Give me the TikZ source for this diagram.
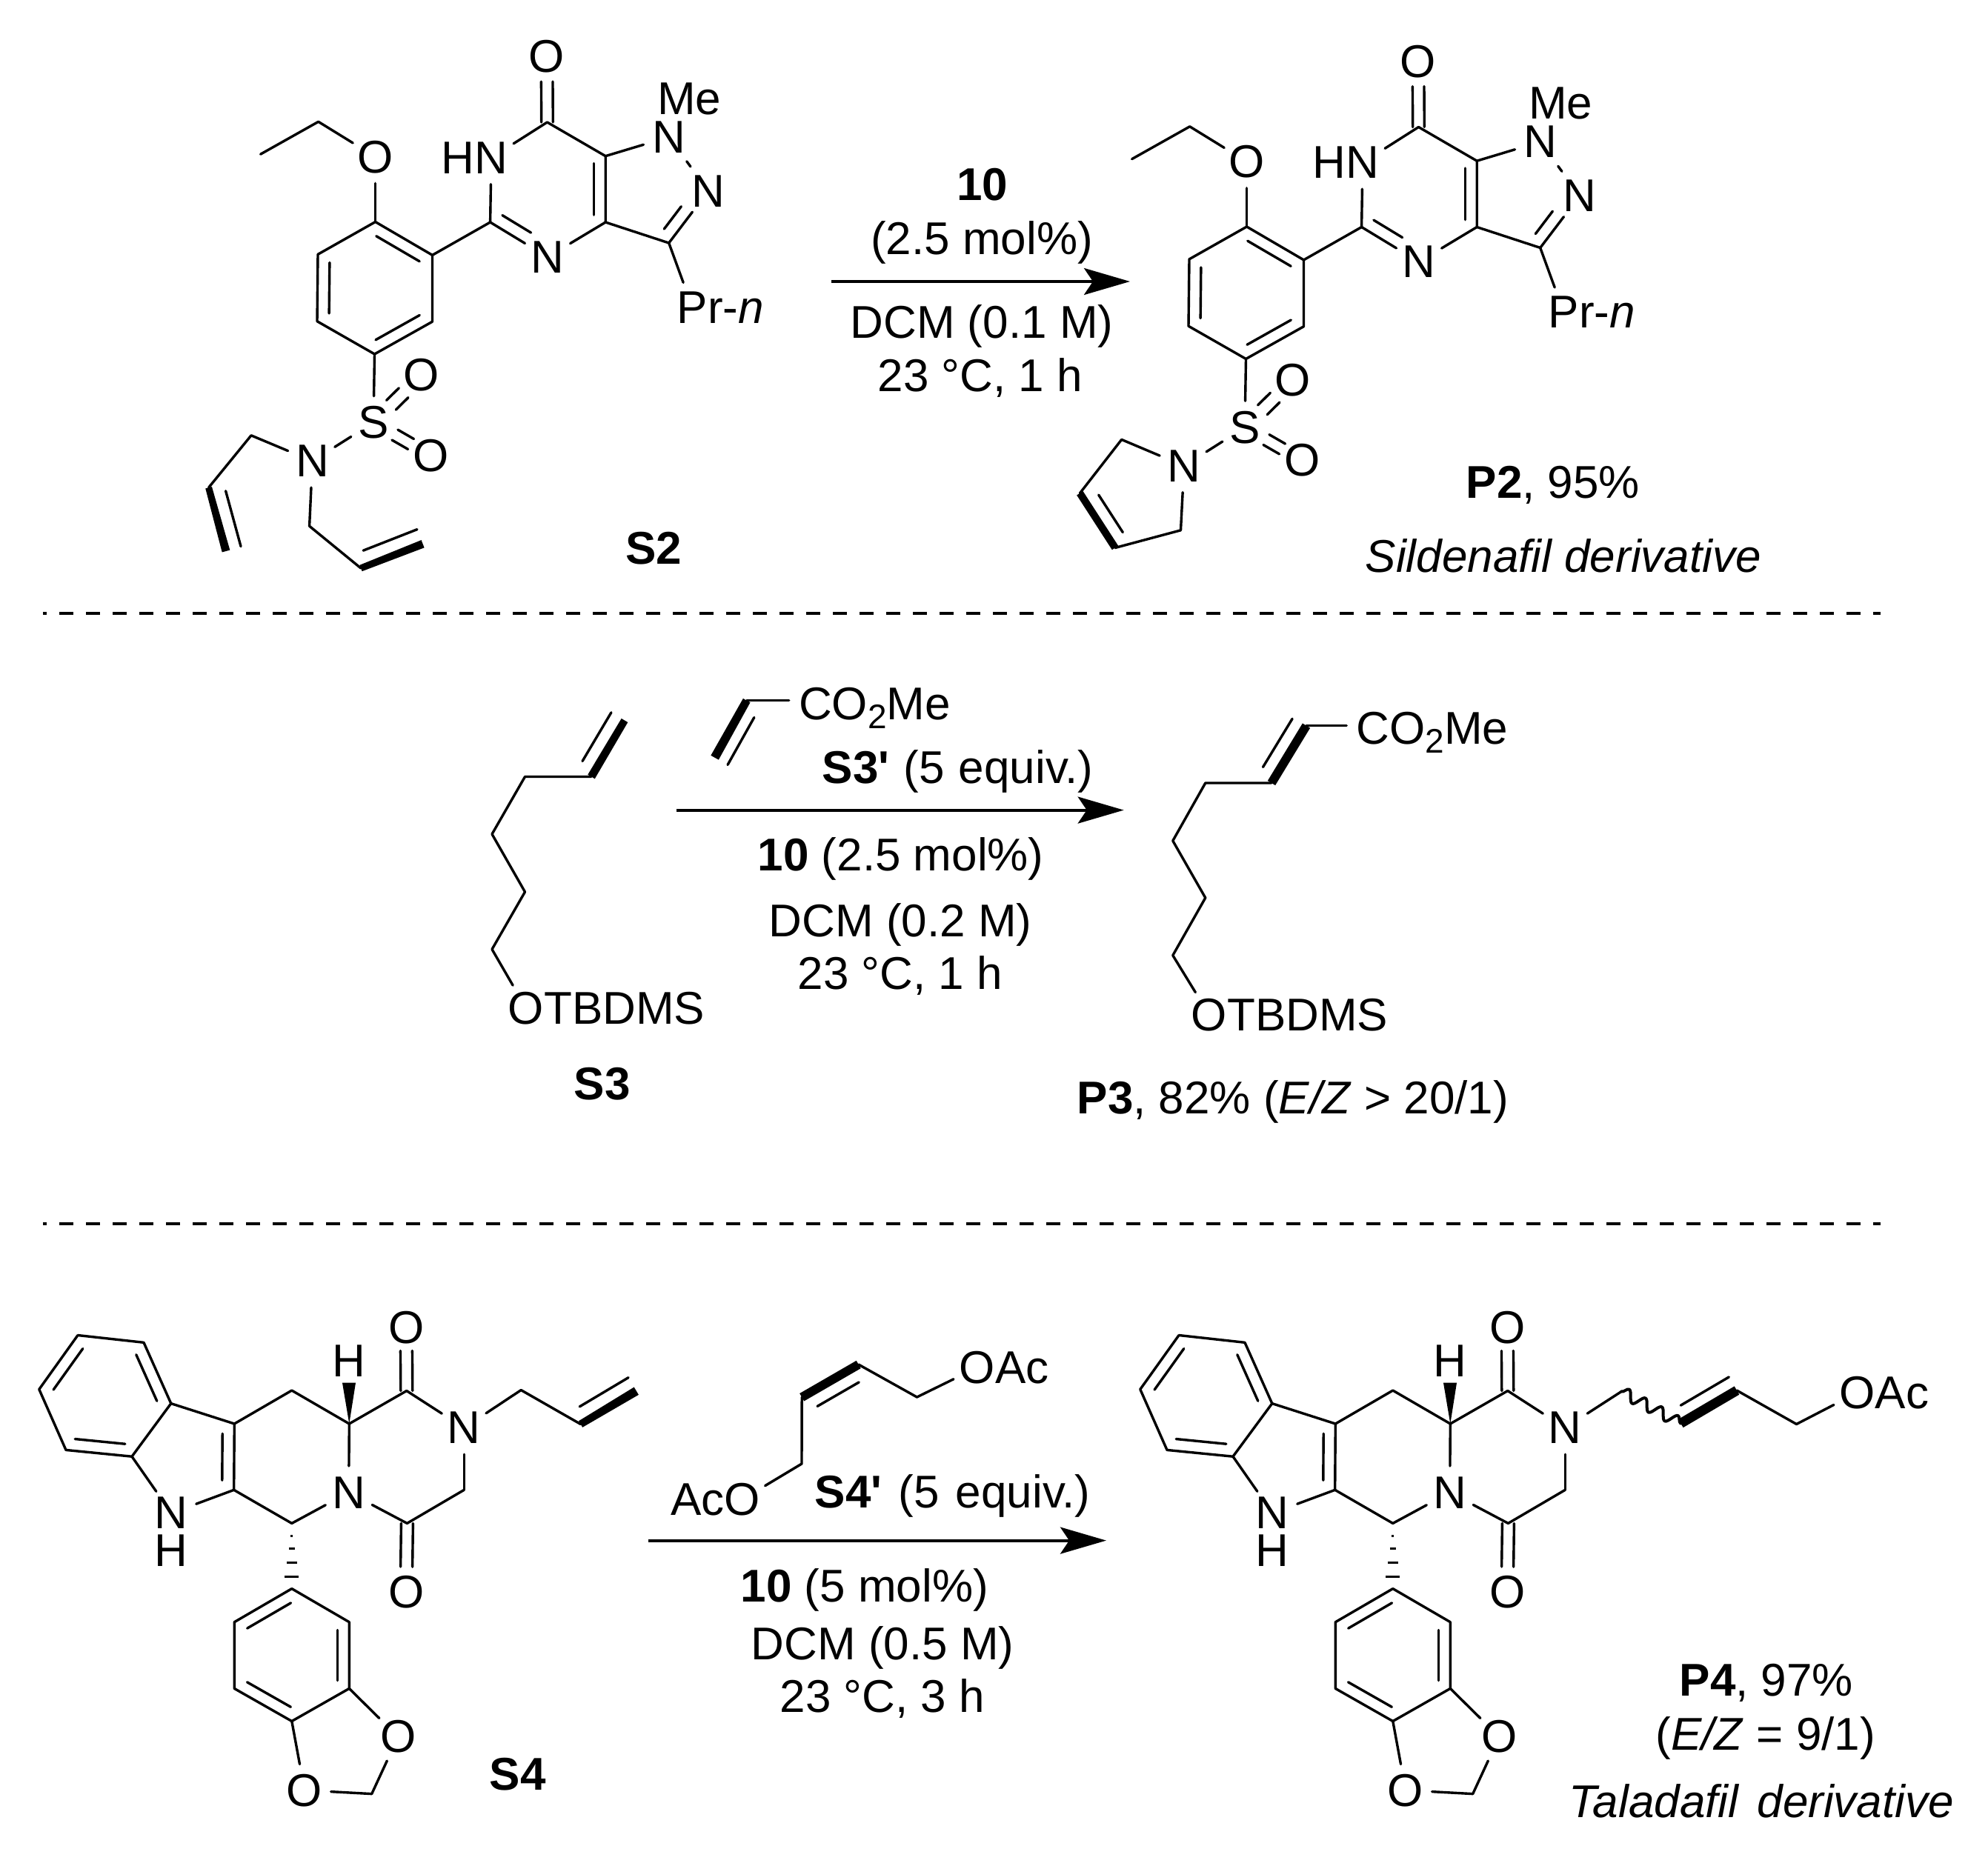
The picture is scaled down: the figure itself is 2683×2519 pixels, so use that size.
\documentclass[tikz,border=0pt]{standalone}
\usepackage{fontspec}
\usetikzlibrary{calc,arrows.meta,decorations.pathmorphing}
\newfontfamily\chemf{Liberation Sans}
\newcommand{\chemfont}{\chemf\fontsize{62}{70}\selectfont}
\newcommand{\inb}[5]{\draw ($(#1)!#3!(#2)!#5pt!90:(#2)$) -- ($(#2)!#4!(#1)!#5pt!-90:(#1)$);}
\newcommand{\dbo}[5]{\inb{#1}{#2}{#3}{#4}{#5}\inb{#1}{#2}{#3}{#4}{-#5}}
\newcommand{\boldb}[4]{\fill ($(#1)!#3pt!90:(#2)$) -- ($(#1)!#3pt!-90:(#2)$) -- ($(#2)!#4pt!90:(#1)$) -- ($(#2)!#4pt!-90:(#1)$) -- cycle;}
\newcommand{\cotwo}{C\smash{\rlap{O\raisebox{-12pt}{\fontsize{46}{50}\selectfont 2}Me}}}
\tikzset{
  atom/.style={circle,inner sep=0pt,minimum size=68pt,font=\chemfont},
  lab/.style={anchor=base west,inner sep=0pt,font=\chemfont},
  rxn/.style={line width=4pt,line cap=butt,-{Stealth[length=62pt,width=36pt,inset=12pt]}},
  sep/.style={line width=3.6pt,line cap=butt,dash pattern=on 19pt off 17pt,dash phase=14pt},
  wavy/.style={line width=4pt,decorate,decoration={snake,amplitude=7.5pt,segment length=25pt}}
}
% Sildenafil core shared by S2 and P2
\newcommand{\sildcore}{%
  \coordinate (et) at (351.6,208.2);
  \coordinate (ch) at (429.7,164.3);
  \node[atom] (Oe) at (506.6,211.7) {O};
  \coordinate (c1) at (506.6,299.5);
  \coordinate (c2) at (583.5,344.4);
  \coordinate (c3) at (583.5,434.2);
  \coordinate (c4) at (505.5,478);
  \coordinate (c5) at (428,433.7);
  \coordinate (c6) at (429,343.4);
  \coordinate (d1) at (661.6,300);
  \node[atom] (NH) at (663,213) {\llap{H}N};
  \coordinate (d2) at (738.5,165);
  \node[atom] (Oc) at (738,76.5) {O};
  \coordinate (d3) at (817.2,210.7);
  \coordinate (d4) at (817.2,300);
  \node[atom] (Nm) at (739,347) {N};
  \node[atom] (Nme) at (902.7,185) {N};
  \node[lab] (Me) at (885.5,154) {Me};
  \node[atom] (Nn) at (956,257.7) {N};
  \coordinate (pz) at (902.7,328);
  \node[atom] (Pr) at (934.4,415) {P\rlap{r-\textit{n}}};
  \node[atom] (S) at (504,570.4) {S};
  \node[atom] (Ot) at (568.6,506.6) {O};
  \node[atom] (Ob) at (581.2,614.8) {O};
  \draw (et) -- (ch) -- (Oe);
  \draw (Oe) -- (c1);
  \draw (c1) -- (c2) -- (c3) -- (c4) -- (c5) -- (c6) -- (c1);
  \inb{c1}{c2}{.12}{.12}{-16}
  \inb{c3}{c4}{.12}{.12}{-16}
  \inb{c5}{c6}{.12}{.12}{-16}
  \draw (c2) -- (d1);
  \draw (d1) -- (NH);
  \draw (NH) -- (d2);
  \draw (d2) -- (d3) -- (d4);
  \dbo{d2}{Oc}{0}{.38}{7.8}
  \inb{d3}{d4}{.11}{.11}{-16}
  \draw (d1) -- (Nm);
  \inb{d1}{Nm}{.1}{.4}{16.5}
  \draw (d4) -- (Nm);
  \draw (d3) -- (Nme);
  \draw[shorten >=5pt,shorten <=5pt] (Nme) -- (Nn);
  \draw (pz) -- (Nn);
  \inb{pz}{Nn}{.127}{.44}{16.5}
  \draw (d4) -- (pz);
  \draw (pz) -- (Pr);
  \draw (c4) -- (S);
  \dbo{S}{Ot}{.37}{.37}{9}
  \dbo{S}{Ob}{.375}{.345}{8}
}
% Tadalafil core shared by S4 and P4
\newcommand{\tetcore}{%
  \coordinate (b1) at (105,1802.5);
  \coordinate (b2) at (194,1812.3);
  \coordinate (b3) at (230.8,1894.6);
  \coordinate (b4) at (178,1966.2);
  \coordinate (b5) at (89,1957.4);
  \coordinate (b6) at (52.8,1875.5);
  \coordinate (g3) at (316.3,1922);
  \coordinate (g2) at (315.7,2011.3);
  \node[atom] (NHi) at (231.3,2042.6) {N};
  \node[atom] (Hi) at (231.3,2093) {H};
  \coordinate (h2) at (393.8,1877);
  \coordinate (hc) at (471.3,1922);
  \node[atom] (Hw) at (470.7,1837) {H};
  \coordinate (wb) at (471,1866.7);
  \coordinate (k1) at (548.8,1877.5);
  \node[atom] (Ot) at (548.2,1791.7) {O};
  \node[atom] (Na) at (626.3,1927.5) {N};
  \coordinate (k2) at (626.3,2011.3);
  \coordinate (k3) at (549.4,2056.4);
  \node[atom] (Ob) at (548.2,2149.5) {O};
  \node[atom] (Nb) at (470.7,2014.7) {N};
  \coordinate (st) at (393.8,2056.4);
  \coordinate (a1) at (393.8,2144.6);
  \coordinate (a2) at (471.3,2189.7);
  \coordinate (a3) at (471.3,2279.4);
  \coordinate (a4) at (393.8,2323.5);
  \coordinate (a5) at (316.3,2279.4);
  \coordinate (a6) at (316.3,2189.7);
  \node[atom] (O1) at (537.3,2344.6) {O};
  \node[atom] (O2) at (411,2416.7) {O};
  \coordinate (me) at (501.7,2421.6);
  \draw (b1) -- (b2) -- (b3) -- (b4) -- (b5) -- (b6) -- (b1);
  \inb{b6}{b1}{.12}{.12}{-16}
  \inb{b2}{b3}{.12}{.12}{-16}
  \inb{b4}{b5}{.12}{.12}{-16}
  \draw (b3) -- (g3) -- (g2);
  \inb{g3}{g2}{.15}{.145}{-16}
  \draw (g2) -- (NHi);
  \draw (NHi) -- (b4);
  \draw (g3) -- (h2) -- (hc) -- (k1);
  \draw (k1) -- (Na);
  \dbo{k1}{Ot}{0}{.37}{8}
  \fill (hc) -- ([xshift=-9pt]wb) -- ([xshift=9pt]wb) -- cycle;
  \draw (hc) -- (Nb);
  \draw (Nb) -- (k3);
  \draw (k3) -- (k2);
  \draw (k2) -- (Na);
  \dbo{k3}{Ob}{0}{.37}{8}
  \draw (g2) -- (st);
  \draw (st) -- (Nb);
  \draw[line width=3pt,line cap=butt]
    (392.3,2073.5) -- (395.3,2073.5)
    (389.8,2090.7) -- (397.8,2090.7)
    (386.8,2109.3) -- (400.8,2109.3)
    (384.3,2128.4) -- (403.3,2128.4);
  \draw (a1) -- (a2) -- (a3) -- (a4) -- (a5) -- (a6) -- (a1);
  \inb{a6}{a1}{.12}{.12}{-16}
  \inb{a2}{a3}{.12}{.12}{-16}
  \inb{a4}{a5}{.12}{.12}{-16}
  \draw (a3) -- (O1);
  \draw (a4) -- (O2);
  \draw (O1) -- (me);
  \draw (me) -- (O2);
}
\begin{document}
\begin{tikzpicture}[x=1pt,y=-1pt,line width=3.4pt,line cap=round,line join=round]
\useasboundingbox (0,0) rectangle (2683,2519);
\fill[white] (0,0) rectangle (2683,2519);

% --- S2
\begin{scope}[name prefix=s2-]
  \sildcore
  \node[atom] (Ns) at (421.6,622.4) {N};
  \coordinate (l1) at (339,587.8);
  \coordinate (l2) at (281.6,658.2);
  \coordinate (l3) at (305,744);
  \coordinate (m1) at (417.6,710.2);
  \coordinate (m2) at (487,767);
  \coordinate (m3) at (570.6,734.2);
  \draw (S) -- (Ns);
  \draw (Ns) -- (l1) -- (l2);
  \boldb{l2}{l3}{4.5}{5.5}
  \inb{l2}{l3}{.117}{.01}{21}
  \draw (Ns) -- (m1) -- (m2);
  \boldb{m2}{m3}{4.5}{5.5}
  \inb{m2}{m3}{.13}{0}{21}
  \node[lab] (S2lab) at (842.4,761) {\textbf{S2}};
\end{scope}

% --- Reaction 1 conditions
\node[lab,anchor=base] (t10) at (1325.7,270) {\textbf{10}};
\node[lab,anchor=base] (tmol) at (1325,343.3) {(2.5 mol\%)};
\coordinate (ar1a) at (1122,380);
\coordinate (ar1b) at (1525,380);
\draw[rxn] (ar1a) -- (ar1b);
\node[lab,anchor=base] (tdcm) at (1325,456.7) {DCM (0.1 M)};
\node[lab,anchor=base] (ttemp) at (1323,528.3) {23 °C, 1 h};

% --- P2
\begin{scope}[shift={(1176,6.5)},name prefix=p2-]
  \sildcore
\end{scope}
\begin{scope}[name prefix=p2-]
  \node[atom] (Ns) at (1598,629) {N};
  \coordinate (r1) at (1513.7,593.4);
  \coordinate (r2) at (1457.4,665.8);
  \coordinate (r3) at (1505,739.5);
  \coordinate (r4) at (1593.5,715.8);
  \draw (S) -- (Ns);
  \draw (Ns) -- (r1) -- (r2);
  \boldb{r2}{r3}{5}{5}
  \inb{r2}{r3}{.178}{.136}{20}
  \draw (r3) -- (r4) -- (Ns);
  \node[lab] (P2lab) at (1977,672) {\textbf{P2}, 95\%};
  \node[lab] (P2name) at (1841,772) {\textit{Sildenafil derivative}};
\end{scope}

% --- Separators
\coordinate (sa1) at (58,828);
\coordinate (sa2) at (2538,828);
\draw[sep] (sa1) -- (sa2);
\coordinate (sb1) at (58,1652);
\coordinate (sb2) at (2538,1652);
\draw[sep] (sb1) -- (sb2);

% --- S3
\coordinate (s31) at (843,972.5);
\coordinate (s32) at (798,1048.5);
\coordinate (s33) at (708.5,1048.5);
\coordinate (s34) at (664,1126);
\coordinate (s35) at (708.5,1204);
\coordinate (s36) at (664,1281.5);
\node[atom] (s3O) at (710,1361) {O\rlap{TBDMS}};
\boldb{s32}{s31}{5.5}{5}
\inb{s32}{s31}{.135}{0}{21}
\draw (s32) -- (s33) -- (s34) -- (s35) -- (s36) -- (s3O);
\node[lab] (S3lab) at (773,1484.6) {\textbf{S3}};

% --- Reaction 2 reagents
\coordinate (r31) at (1007.7,945.6);
\coordinate (r32) at (964.6,1022.7);
\node[atom] (r3c) at (1100.5,950.5) {\cotwo};
\draw (r31) -- (r31 -| r3c.west);
\boldb{r31}{r32}{5.5}{6}
\inb{r31}{r32}{.17}{0}{20}
\node[lab] (t3eq) at (1108,1057.5) {\textbf{S3'}\hspace{2pt} (5\hspace{2pt} equiv.)};
\coordinate (ar2a) at (913,1093.6);
\coordinate (ar2b) at (1516.7,1093.6);
\draw[rxn] (ar2a) -- (ar2b);
\node[lab] (t310) at (1021,1175.7) {\textbf{10} (2.5 mol\%)};
\node[lab] (t3dcm) at (1036,1264) {DCM (0.2 M)};
\node[lab] (t3temp) at (1075,1335.3) {23 °C, 1 h};

% --- P3
\coordinate (q6) at (1763,979.6);
\coordinate (q5) at (1716,1057);
\coordinate (q4) at (1626.8,1057);
\coordinate (q3) at (1582.8,1135);
\coordinate (q2) at (1626.8,1212);
\coordinate (q1) at (1582.8,1289.7);
\node[atom] (p3O) at (1632,1370) {O\rlap{TBDMS}};
\node[atom] (p3c) at (1853,983.5) {\cotwo};
\draw (q6) -- (q6 -| p3c.west);
\boldb{q5}{q6}{6}{6}
\inb{q5}{q6}{.137}{.02}{21}
\draw (q5) -- (q4) -- (q3) -- (q2) -- (q1) -- (p3O);
\node[lab] (P3lab) at (1452,1503) {\textbf{P3}, 82\% (\textit{E/Z} > 20/1)};

% --- S4
\begin{scope}[name prefix=s4-]
  \tetcore
  \coordinate (al1) at (703.2,1876.5);
  \coordinate (al2) at (783.6,1922.5);
  \coordinate (al3) at (858.8,1877.7);
  \draw (Na) -- (al1) -- (al2);
  \boldb{al2}{al3}{5}{6}
  \inb{al2}{al3}{.125}{0}{21}
  \node[lab] (S4lab) at (659,2416.7) {\textbf{S4}};
\end{scope}

% --- Reaction 3 reagents
\node[atom] (r4a) at (1319,1846) {O\rlap{Ac}};
\coordinate (r41) at (1237.5,1886);
\coordinate (r42) at (1158.7,1842);
\coordinate (r43) at (1082.2,1886.2);
\coordinate (r44) at (1082,1976);
\node[atom] (r4b) at (1002,2024) {\llap{Ac}O};
\draw (r4a) -- (r41) -- (r42);
\boldb{r42}{r43}{6}{6}
\inb{r42}{r43}{.13}{.135}{21}
\draw (r43) -- (r44) -- (r4b);
\node[lab] (t4eq) at (1098,2035) {\textbf{S4'}\hspace{5pt} (5\hspace{5pt} equiv.)};
\coordinate (ar3a) at (875.4,2079.6);
\coordinate (ar3b) at (1493,2079.6);
\draw[rxn] (ar3a) -- (ar3b);
\node[lab] (t410) at (998,2162.5) {\textbf{10} (5 mol\%)};
\node[lab] (t4dcm) at (1012,2240.5) {DCM (0.5 M)};
\node[lab] (t4temp) at (1051,2311.8) {23 °C, 3 h};

% --- P4
\begin{scope}[shift={(1486,0)},name prefix=p4-]
  \tetcore
\end{scope}
\begin{scope}[name prefix=p4-]
  \coordinate (w1) at (2188.3,1878.4);
  \coordinate (w2) at (2268.3,1921.5);
  \coordinate (w3) at (2344,1877);
  \coordinate (w4) at (2424.5,1922.5);
  \node[atom] (Oa) at (2506.6,1880) {O\rlap{Ac}};
  \draw (Na) -- (w1);
  \draw[wavy] (w1) -- (w2);
  \boldb{w2}{w3}{6.5}{6.5}
  \inb{w2}{w3}{.14}{0}{21}
  \draw (w3) -- (w4) -- (Oa);
  \node[lab] (P4lab) at (2265,2289) {\textbf{P4}, 97\%};
  \node[lab] (P4ez) at (2233,2362.7) {(\textit{E/Z} = 9/1)};
  \node[lab] (P4name) at (2116,2453.4) {\textit{Taladafil\hspace{8pt} derivative}};
\end{scope}
\end{tikzpicture}
\end{document}
